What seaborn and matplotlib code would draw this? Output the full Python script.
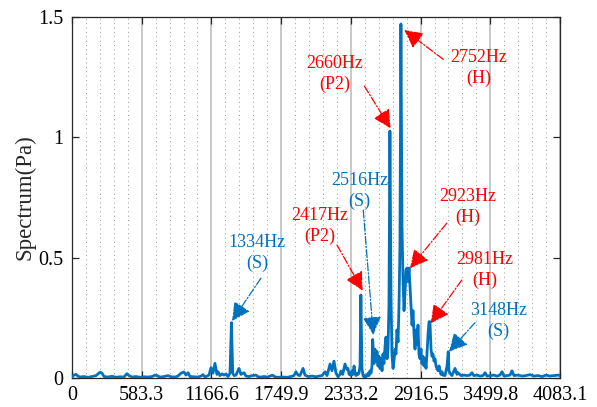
import numpy as np
import pandas as pd
import matplotlib
matplotlib.use("Agg")
import matplotlib.pyplot as plt
import seaborn as sns
from matplotlib.ticker import FixedLocator, MultipleLocator

# ---------------- data ----------------
freq_hz = [
    0, 17, 33, 50, 67, 100, 134, 167, 201, 234, 251, 268, 301, 335, 368, 402, 435, 460, 477, 502,
    535, 569, 602, 636, 669, 694, 711, 736, 770, 803, 828, 862, 887, 912, 937, 954, 971, 987, 1021, 1054,
    1079, 1096, 1113, 1130, 1146, 1163, 1180, 1196, 1213, 1222, 1238, 1255, 1272, 1288, 1305, 1322, 1334, 1345, 1356, 1372,
    1397, 1414, 1439, 1456, 1481, 1506, 1540, 1556, 1581, 1606, 1640, 1665, 1682, 1699, 1732, 1765, 1799, 1833, 1857, 1874,
    1891, 1907, 1933, 1950, 1975, 2008, 2041, 2067, 2092, 2117, 2134, 2159, 2175, 2192, 2209, 2226, 2242, 2251, 2265, 2284,
    2301, 2309, 2318,
    2326, 2334, 2343, 2351, 2360, 2368, 2376, 2385, 2393, 2401, 2410, 2417, 2426, 2435, 2443, 2452, 2460, 2468, 2477, 2485,
    2493, 2502, 2510, 2516, 2527, 2535, 2544, 2552, 2560, 2569, 2577, 2585, 2594, 2602, 2610, 2619, 2627, 2636, 2644, 2652,
    2660, 2669, 2677, 2686, 2694, 2703, 2711, 2719, 2728, 2736, 2744, 2752, 2761, 2770, 2778, 2786, 2795, 2803, 2811, 2820,
    2828, 2836, 2845, 2853, 2862, 2870, 2878, 2887, 2895, 2903, 2912, 2920, 2928, 2937, 2945, 2954, 2962, 2970, 2979, 2987,
    2995, 3004, 3012, 3020, 3029, 3037, 3046, 3054, 3062, 3071, 3079, 3087, 3096, 3104, 3121, 3138, 3148, 3154, 3163,
    3179, 3205, 3221, 3230, 3255, 3281, 3305, 3330, 3347, 3361, 3389, 3414, 3439, 3456, 3472, 3497, 3531, 3556, 3581, 3598,
    3615, 3640, 3665, 3681, 3698, 3732, 3765, 3799, 3832, 3866, 3899, 3933, 3966, 4000, 4033, 4066, 4083,
]
spectrum_pa = [
    0.005, 0.012, 0.015, 0.008, 0.004, 0.006, 0.003, 0.006, 0.010, 0.024, 0.020, 0.006, 0.004, 0.007, 0.003, 0.005, 0.004, 0.018, 0.010, 0.004,
    0.006, 0.003, 0.005, 0.004, 0.006, 0.012, 0.010, 0.004, 0.006, 0.010, 0.005, 0.004, 0.008, 0.020, 0.025, 0.012, 0.022, 0.006, 0.005, 0.004,
    0.008, 0.014, 0.004, 0.008, 0.012, 0.043, 0.020, 0.061, 0.015, 0.026, 0.010, 0.017, 0.012, 0.017, 0.006, 0.020, 0.230, 0.020, 0.010, 0.012,
    0.040, 0.015, 0.022, 0.008, 0.006, 0.010, 0.012, 0.005, 0.004, 0.006, 0.004, 0.010, 0.011, 0.004, 0.003, 0.004, 0.003, 0.006, 0.010, 0.026,
    0.012, 0.010, 0.040, 0.012, 0.006, 0.008, 0.005, 0.008, 0.010, 0.026, 0.010, 0.058, 0.030, 0.070, 0.020, 0.005, 0.015, 0.029, 0.015, 0.058,
    0.035, 0.040, 0.015,
    0.020, 0.010, 0.030, 0.015, 0.050, 0.020, 0.010, 0.020, 0.015, 0.020, 0.050, 0.345, 0.040, 0.010, 0.005, 0.010, 0.005, 0.010, 0.020, 0.010,
    0.030, 0.020, 0.050, 0.160, 0.060, 0.120, 0.070, 0.110, 0.050, 0.090, 0.040, 0.080, 0.030, 0.100, 0.060, 0.130, 0.170, 0.080, 0.120, 0.300,
    1.026, 0.350, 0.100, 0.040, 0.070, 0.120, 0.100, 0.200, 0.150, 0.300, 0.550, 1.471, 0.630, 0.400, 0.280, 0.350, 0.450, 0.457, 0.400, 0.457,
    0.380, 0.300, 0.220, 0.280, 0.180, 0.120, 0.200, 0.140, 0.220, 0.100, 0.080, 0.120, 0.060, 0.090, 0.050, 0.080, 0.040, 0.100, 0.180, 0.234,
    0.234, 0.120, 0.090, 0.100, 0.070, 0.080, 0.050, 0.040, 0.030, 0.050, 0.030, 0.015, 0.026, 0.012, 0.010, 0.050, 0.109, 0.030, 0.019,
    0.010, 0.040, 0.015, 0.022, 0.010, 0.012, 0.010, 0.012, 0.022, 0.010, 0.012, 0.008, 0.010, 0.022, 0.008, 0.010, 0.012, 0.008, 0.012, 0.026,
    0.008, 0.010, 0.012, 0.030, 0.010, 0.012, 0.008, 0.010, 0.014, 0.008, 0.010, 0.006, 0.012, 0.008, 0.010, 0.012, 0.010,
]

x_ticks = [0, 583.3, 1166.6, 1749.9, 2333.2, 2916.5, 3499.8, 4083.1]
x_tick_labels = ["0", "583.3", "1166.6", "1749.9", "2333.2", "2916.5", "3499.8", "4083.1"]
y_ticks = [0, 0.5, 1, 1.5]
y_tick_labels = ["0", "0.5", "1", "1.5"]

# annotations: label, colour key, text centre (Hz, Pa), arrow tail, arrow head
ann_labels = ["1334Hz\n(S)", "2417Hz\n(P2)", "2516Hz\n(S)", "2660Hz\n(P2)",
              "2752Hz\n(H)", "2923Hz\n(H)", "2981Hz\n(H)", "3148Hz\n(S)"]
ann_kinds = ["S", "P", "S", "P", "H", "H", "H", "S"]
ann_text_x = [1548, 2075, 2405, 2198, 3405, 3313, 3451, 3570]
ann_text_y = [0.519, 0.632, 0.777, 1.263, 1.288, 0.710, 0.449, 0.237]
ann_tail_x = [1581, 2217, 2437, 2446, 3107, 3135, 3261, 3372]
ann_tail_y = [0.415, 0.553, 0.698, 1.213, 1.324, 0.643, 0.407, 0.230]
ann_head_x = [1339, 2432, 2521, 2666, 2780, 2828, 3001, 3154]
ann_head_y = [0.237, 0.363, 0.179, 1.037, 1.446, 0.456, 0.227, 0.109]

# ---------------- styling ----------------
sns.set_theme(style="white")
plt.rcParams["font.family"] = ["Liberation Serif", "DejaVu Serif"]

BLUE = "#0072BD"
RED = "#FF0000"
kind_color = {"S": BLUE, "P": RED, "H": RED}

fig = plt.figure(figsize=(5.97, 4.07), dpi=100)
ax = fig.add_axes([72 / 597, 29 / 407, 488 / 597, 361 / 407])

df = pd.DataFrame({"freq": freq_hz, "spec": spectrum_pa})
sns.lineplot(data=df, x="freq", y="spec", ax=ax, color=BLUE, linewidth=2.0,
             estimator=None, sort=True, zorder=3)

ax.set_xlim(0, 4083.1)
ax.set_ylim(0, 1.5)
ax.xaxis.set_major_locator(FixedLocator(x_ticks))
ax.set_xticklabels(x_tick_labels)
ax.xaxis.set_minor_locator(MultipleLocator(4083.1 / 35))
ax.yaxis.set_major_locator(FixedLocator(y_ticks))
ax.set_yticklabels(y_tick_labels)

ax.set_xlabel("")
ax.set_ylabel("Spectrum(Pa)", fontsize=16.5, labelpad=2)

ax.grid(False)
ax.grid(True, which="major", axis="x", color="#c4c4c4", linewidth=1.3, linestyle="-", zorder=0)
ax.grid(True, which="minor", axis="x", color="#9a9a9a", linewidth=0.7,
        linestyle=(0, (1, 3.5)), zorder=0)
ax.set_axisbelow(True)

ax.tick_params(axis="both", which="major", direction="in", length=5, width=0.9,
               top=True, right=True, bottom=True, left=True, labelsize=14.5,
               colors="#262626", pad=6)
ax.tick_params(axis="both", which="minor", length=0, top=False, right=False)
for lbl in ax.get_xticklabels() + ax.get_yticklabels():
    lbl.set_color("black")
for s in ax.spines.values():
    s.set_color("#262626")
    s.set_linewidth(0.9)

for lab, kind, tx, ty, ax0, ay0, hx, hy in zip(ann_labels, ann_kinds, ann_text_x, ann_text_y,
                                              ann_tail_x, ann_tail_y, ann_head_x, ann_head_y):
    c = kind_color[kind]
    ax.text(tx, ty, lab, color=c, fontsize=13, ha="center", va="center",
            linespacing=1.25, zorder=5)
    ax.annotate("", xy=(hx, hy), xytext=(ax0, ay0),
                arrowprops=dict(arrowstyle="-|>,head_length=0.75,head_width=0.38",
                                linestyle="-.", lw=0.9, color=c, mutation_scale=15,
                                shrinkA=0, shrinkB=0),
                zorder=6)

fig.savefig("out.png", dpi=100)
